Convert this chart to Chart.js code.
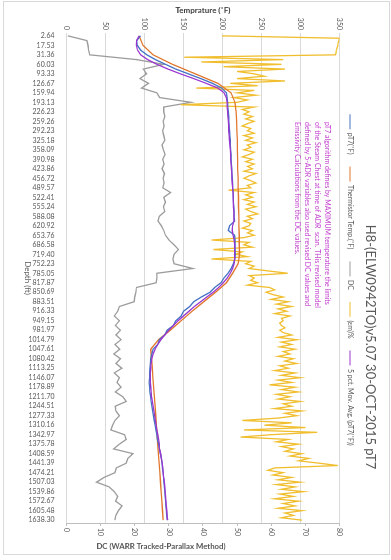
<!DOCTYPE html>
<html><head><meta charset="utf-8">
<script src="https://cdn.jsdelivr.net/npm/chart.js@4.4.1/dist/chart.umd.min.js"></script>
<style>
html,body{margin:0;padding:0;background:#fff;}
#wrap{position:relative;width:391px;height:560px;overflow:hidden;background:#fff;}
#c{position:absolute;left:0;top:0;transform-origin:0 0;transform:translate(391px,0) rotate(90deg);}
#frame{position:absolute;left:3px;top:1px;width:385px;height:552px;border:1px solid #d9d9d9;pointer-events:none;}
</style></head>
<body><div id="wrap"><canvas id="c" width="560" height="391" style="width:560px;height:391px"></canvas><div id="frame"></div></div>
<script>
// ---- Tick labels (depth, ft) ----
const depthLabels = ["2.64","17.53","31.36","60.03","93.33","126.67","159.94","193.13","226.23","259.26","292.23","325.18","358.09","390.98","423.86","456.72","489.57","522.41","555.24","588.08","620.92","653.76","686.58","719.40","752.23","785.05","817.87","850.69","883.51","916.33","949.15","981.97","1014.79","1047.61","1080.42","1113.25","1146.07","1178.89","1211.70","1244.51","1277.33","1310.16","1342.97","1375.78","1408.59","1441.39","1474.21","1507.03","1539.86","1572.67","1605.48","1638.30"];

// ---- Series (sampled every half / whole / quarter label step) ----
const pT7 = [95,90,91,95,103,114,127,140,156,172,187,199,205,206,206.5,207,207.5,208,208,208.5,209,209.5,210,210,210.5,211,211,211.5,212,212,212.5,213,213,213.5,214,214,214.5,215,215,215.5,209,207.5,215.5,216,216,216,216.5,216,214,211,207,202,198,190,184,173,163,158,150,147,140,137,129,126,119,117,111,109.5,108,107.5,107,106.5,106.5,106,106.5,107,108,108.5,109.5,110.5,111.5,112.5,113.5,114.5,116,116.5,118,119,120.5,121.5,122.5,123,124,124.5,125,125.5,126,126.5,127,127.5,128,128.5,129.5];
const thermistor = [93,98,111,136,165,194,211,216,217.5,218,218.5,219,219,219.5,219.5,220,220,220.5,220.5,221,221,221.5,221.5,222,220,213,205,191,176,161,147,133,118,108,109,110,110.8,111.7,112.6,113.5,114.4,115.2,116.1,117,117.9,118.8,119.6,120.5,121.4,122.3,123.1,124];
const dcValues = [0.4,6.0,6.3,6.5,6.8,20.5,28.5,22.5,23.5,21.5,24.0,22.0,26.5,27.3,36.5,28.5,28.5,28.8,28.3,28.6,28.2,28.5,28.8,28.0,28.4,28.9,28.2,28.6,28.0,28.7,28.3,28.6,28.2,30.5,28.5,29.0,28.4,28.8,27.2,26.8,27.8,28.5,29.0,30.0,31.5,32.8,31.5,31.2,31.5,37.0,26.5,26.5,26.3,20.5,20.3,20.0,19.8,15.5,15.0,14.0,15.5,14.3,15.8,14.5,16.0,14.2,15.6,13.9,15.8,14.5,16.2,14.0,15.5,14.8,16.0,14.3,16.5,17.5,14.3,14.5,15.5,14.2,13.5,13.0,17.0,17.5,15.5,13.8,19.5,18.0,17.5,14.6,14.2,11.0,8.8,12.5,14.0,15.0,14.4,16.3,15.2,14.5,14.2];
const emPct = [
45.6,80.0,79.8,79.6, 79.5,79.3,79.1,79.0, 78.8,34.5,63.5,39.5, 63.0,46.0,64.0,50.0,
55.0,58.0,50.0,64.0, 48.0,56.0,38.0,55.0, 50.0,55.5,49.0,53.0, 50.0,33.5,55.0,51.5,
53.5,52.0,54.5,52.5, 55.0,53.0,51.5,54.0, 53.0,55.0,52.0,54.5, 52.5,55.5,53.0,54.0,
52.0,55.0,53.5,51.5, 54.5,52.5,55.0,53.0, 54.5,52.0,55.5,53.5, 52.0,54.0,55.5,53.0,
54.0,47.5,55.0,52.5, 54.5,52.0,55.0,53.0, 55.5,52.5,54.0,56.0, 53.0,54.5,52.0,54.0,
53.5,51.5,54.5,53.0, 55.0,52.0,42.5,53.5, 52.0,54.5,43.0,51.5, 49.5,53.0,42.5,54.0,
52.5,55.0,53.5,59.0, 64.8,53.5,55.0,54.0, 56.0,53.0,59.5,61.0, 58.5,60.5,63.5,60.0,
65.0,61.5,66.0,62.0, 64.5,61.0,65.5,63.0, 63.5,62.5,63.0,64.0, 62.5,63.5,66.0,62.0,
67.5,63.0,66.0,62.5, 67.0,63.5,65.5,62.0, 66.5,64.0,67.5,62.5, 65.0,61.0,67.0,63.0,
68.5,62.0,66.0,59.5, 67.0,63.0,68.0,61.5, 65.5,62.0,68.5,63.5, 66.0,61.0,69.0,64.0,
67.5,62.0,51.5,66.0, 58.0,70.0,52.0,73.5, 60.0,51.0,65.0,61.5, 68.0,63.0,66.5,64.0,
69.0,65.5,71.0,68.0, 74.0,79.5,61.0,59.0, 63.5,60.5,66.0,62.0, 68.5,61.5,67.0,63.0,
69.5,62.5,66.5,61.0, 68.0,63.5,67.0,62.0, 69.0,64.0,66.5,63.0, 69.0];
const movAvg = [93,90,89.5,91,95,104,116,130,146,163,179,194,202,205,206,206,206.5,207,207.5,208,208,208.5,209,209.5,210,210.5,210.5,211,211.5,212,212,212.5,213,213.5,213.5,214,214,214.5,214.5,214.5,213,212.5,213.5,215,215.5,215.5,215.5,215.5,215,213,210,206,201,195,188,180,172,164,157,150,143,137,131,126,121,117,113.5,111,109.5,108.5,108,107.5,107.5,107.5,108,108.5,109,110,111,112,113,114,115,116,117,118,119,119.5,120.5,121.5,122.5,123.5,124,124.5,125.5,126,126.5,127,127.5,128,128.5,129,129.5];

const titleText = "H8-(ELW0942TO)v5.07 30-OCT-2015 pT7";
const noteLines = [
  "pT7 algorithm defines by MAXIMUM temperature the limits",
  "of the Steam Chest at time of ADR  scan. THis revised model",
  "defined by 5-ADR variables also used revised DC values and",
  "Emissivity Calculations from the DC values."
];
const dcTitle = "DC (WARR Tracked-Parallax Method)";

const FONT = "Lato, 'Liberation Sans', sans-serif";
Chart.defaults.font.family = FONT;
Chart.defaults.color = '#595959';

const toPts = (vals, step) => vals.map((v, k) => ({x: k * step, y: v}));

const extras = {
  id: 'extras',
  afterDraw(chart) {
    const {ctx} = chart;
    ctx.save();
    ctx.fillStyle = '#595959';
    ctx.font = "13px " + FONT;
    ctx.textAlign = 'center';
    ctx.textBaseline = 'middle';
    ctx.fillText(titleText, 347, 21);
    // annotation
    ctx.fillStyle = '#c23ccf';
    ctx.font = "7px " + FONT;
    ctx.textAlign = 'left';
    noteLines.forEach((t, k) => ctx.fillText(t, 122, 64 + k * 10));
    // DC axis title (reads left-to-right after the page rotation)
    ctx.fillStyle = '#595959';
    ctx.font = "bold 7.8px " + FONT;
    ctx.textAlign = 'center';
    ctx.translate(546, 230);
    ctx.rotate(-Math.PI / 2);
    ctx.fillText(dcTitle, 0, 0);
    ctx.restore();
  }
};

new Chart(document.getElementById('c'), {
  type: 'line',
  data: { datasets: [
    {label: 'pT7(˚F)', data: toPts(pT7, 0.5), borderColor: '#4472c4', backgroundColor: '#4472c4', yAxisID: 'yT', order: 2},
    {label: 'Thermistor Temp.(˚F)', data: toPts(thermistor, 1), borderColor: '#e0762c', backgroundColor: '#e0762c', yAxisID: 'yT', order: 3},
    {label: 'DC', data: toPts(dcValues, 0.5), borderColor: '#9c9c9c', backgroundColor: '#9c9c9c', yAxisID: 'yD', order: 5},
    {label: '(εm)%', data: toPts(emPct, 0.25), borderColor: '#f0be2e', backgroundColor: '#f0be2e', yAxisID: 'yD', order: 4},
    {label: '5 pct. Mov. Avg. (pT7(˚F))', data: toPts(movAvg, 0.5), borderColor: '#9a36d0', backgroundColor: '#9a36d0', yAxisID: 'yT', order: 1}
  ]},
  options: {
    responsive: false, animation: false, devicePixelRatio: 1, events: [],
    elements: {point: {radius: 0}, line: {borderWidth: 1.3, tension: 0}},
    layout: {padding: {top: 25.5, left: 0, right: 0, bottom: 0}},
    plugins: {
      tooltip: {enabled: false},
      title: {display: false},
      legend: {
        position: 'top', align: 'center', maxHeight: 26,
        labels: {usePointStyle: true, pointStyle: 'line', pointStyleWidth: 15, boxHeight: 7, padding: 12, color: '#595959', font: {size: 7},
                 sort: (a, b) => a.datasetIndex - b.datasetIndex}
      }
    },
    scales: {
      x: {
        type: 'linear', position: 'bottom', min: -0.3, max: 51.3,
        afterBuildTicks: s => { s.ticks = depthLabels.map((_, i) => ({value: i})); },
        ticks: {autoSkip: false, minRotation: 90, maxRotation: 90, padding: 4, font: {size: 7}, color: '#595959',
                callback: v => depthLabels[v]},
        grid: {display: false},
        border: {display: true, color: '#d9d9d9'},
        title: {display: true, text: 'Depth (ft)', font: {size: 8}, color: '#595959', padding: {top: 0, bottom: 23}},
        afterFit: s => { s.height = 66.5; }
      },
      yT: {
        type: 'linear', position: 'left', min: 0, max: 350,
        ticks: {stepSize: 50, padding: 3, font: {size: 7}, color: '#595959'},
        grid: {color: '#d9d9d9', drawTicks: false},
        border: {display: false},
        title: {display: true, text: 'Temprature (˚F)', font: {size: 8, weight: 'bold'}, color: '#404040', padding: {top: 6, bottom: 0}},
        afterFit: s => { s.width = 33; }
      },
      yD: {
        type: 'linear', position: 'right', min: 0, max: 80,
        ticks: {stepSize: 10, padding: 2, font: {size: 7}, color: '#595959'},
        grid: {drawOnChartArea: false, drawTicks: true, tickLength: 3, color: '#bfbfbf'},
        border: {display: true, color: '#bfbfbf'},
        title: {display: false},
        afterFit: s => { s.width = 37; }
      }
    }
  },
  plugins: [extras]
});
</script>
</body></html>
